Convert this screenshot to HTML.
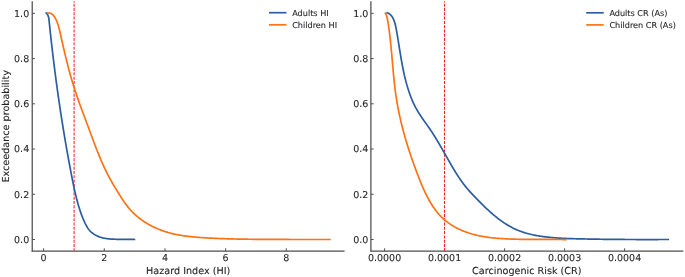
<!DOCTYPE html>
<html><head><meta charset="utf-8"><title>Exceedance probability</title>
<style>html,body{margin:0;padding:0;background:#fff;width:685px;height:277px;overflow:hidden}svg{display:block}text{stroke:#262626;stroke-width:0.1px}</style>
</head><body>
<svg width="685" height="277" viewBox="0 0 685 277" font-family='"DejaVu Sans", "Liberation Sans", sans-serif' font-size="9.5" fill="#262626" text-rendering="geometricPrecision">
<rect width="685" height="277" fill="#fff"/>
<line x1="32.2" y1="1.2" x2="32.2" y2="251.55" stroke="#363636" stroke-width="1.1"/>
<line x1="31.700000000000003" y1="251.05" x2="344.6" y2="251.05" stroke="#4c4c4c" stroke-width="1.15"/>
<line x1="32.2" y1="239.50" x2="35.00" y2="239.50" stroke="#444" stroke-width="0.9"/>
<text x="29.2" y="242.95" text-anchor="end">0.0</text>
<line x1="32.2" y1="194.27" x2="35.00" y2="194.27" stroke="#444" stroke-width="0.9"/>
<text x="29.2" y="197.72" text-anchor="end">0.2</text>
<line x1="32.2" y1="149.04" x2="35.00" y2="149.04" stroke="#444" stroke-width="0.9"/>
<text x="29.2" y="152.49" text-anchor="end">0.4</text>
<line x1="32.2" y1="103.81" x2="35.00" y2="103.81" stroke="#444" stroke-width="0.9"/>
<text x="29.2" y="107.26" text-anchor="end">0.6</text>
<line x1="32.2" y1="58.58" x2="35.00" y2="58.58" stroke="#444" stroke-width="0.9"/>
<text x="29.2" y="62.03" text-anchor="end">0.8</text>
<line x1="32.2" y1="13.35" x2="35.00" y2="13.35" stroke="#444" stroke-width="0.9"/>
<text x="29.2" y="16.80" text-anchor="end">1.0</text>
<line x1="43.60" y1="251.05" x2="43.60" y2="248.25" stroke="#444" stroke-width="0.9"/>
<text x="43.60" y="260.8" text-anchor="middle">0</text>
<line x1="104.28" y1="251.05" x2="104.28" y2="248.25" stroke="#444" stroke-width="0.9"/>
<text x="104.28" y="260.8" text-anchor="middle">2</text>
<line x1="164.96" y1="251.05" x2="164.96" y2="248.25" stroke="#444" stroke-width="0.9"/>
<text x="164.96" y="260.8" text-anchor="middle">4</text>
<line x1="225.64" y1="251.05" x2="225.64" y2="248.25" stroke="#444" stroke-width="0.9"/>
<text x="225.64" y="260.8" text-anchor="middle">6</text>
<line x1="286.32" y1="251.05" x2="286.32" y2="248.25" stroke="#444" stroke-width="0.9"/>
<text x="286.32" y="260.8" text-anchor="middle">8</text>
<line x1="370.9" y1="1.2" x2="370.9" y2="251.55" stroke="#363636" stroke-width="1.1"/>
<line x1="370.4" y1="251.05" x2="683.3" y2="251.05" stroke="#4c4c4c" stroke-width="1.15"/>
<line x1="370.9" y1="239.50" x2="373.70" y2="239.50" stroke="#444" stroke-width="0.9"/>
<text x="368.3" y="242.95" text-anchor="end">0.0</text>
<line x1="370.9" y1="194.27" x2="373.70" y2="194.27" stroke="#444" stroke-width="0.9"/>
<text x="368.3" y="197.72" text-anchor="end">0.2</text>
<line x1="370.9" y1="149.04" x2="373.70" y2="149.04" stroke="#444" stroke-width="0.9"/>
<text x="368.3" y="152.49" text-anchor="end">0.4</text>
<line x1="370.9" y1="103.81" x2="373.70" y2="103.81" stroke="#444" stroke-width="0.9"/>
<text x="368.3" y="107.26" text-anchor="end">0.6</text>
<line x1="370.9" y1="58.58" x2="373.70" y2="58.58" stroke="#444" stroke-width="0.9"/>
<text x="368.3" y="62.03" text-anchor="end">0.8</text>
<line x1="370.9" y1="13.35" x2="373.70" y2="13.35" stroke="#444" stroke-width="0.9"/>
<text x="368.3" y="16.80" text-anchor="end">1.0</text>
<line x1="384.60" y1="251.05" x2="384.60" y2="248.25" stroke="#444" stroke-width="0.9"/>
<text x="384.60" y="260.8" text-anchor="middle">0.0000</text>
<line x1="444.60" y1="251.05" x2="444.60" y2="248.25" stroke="#444" stroke-width="0.9"/>
<text x="444.60" y="260.8" text-anchor="middle">0.0001</text>
<line x1="504.60" y1="251.05" x2="504.60" y2="248.25" stroke="#444" stroke-width="0.9"/>
<text x="504.60" y="260.8" text-anchor="middle">0.0002</text>
<line x1="564.60" y1="251.05" x2="564.60" y2="248.25" stroke="#444" stroke-width="0.9"/>
<text x="564.60" y="260.8" text-anchor="middle">0.0003</text>
<line x1="624.60" y1="251.05" x2="624.60" y2="248.25" stroke="#444" stroke-width="0.9"/>
<text x="624.60" y="260.8" text-anchor="middle">0.0004</text>
<line x1="74.10" y1="250.8" x2="74.10" y2="1.2" stroke="#ff1f1f" stroke-width="1.05" stroke-dasharray="2.99 1.30" stroke-dashoffset="0.45"/>
<line x1="444.50" y1="250.8" x2="444.50" y2="1.2" stroke="#ff1f1f" stroke-width="1.05" stroke-dasharray="2.99 1.30" stroke-dashoffset="0.45"/>
<path d="M45.41,13.07 L46.10,13.10 L46.66,13.43 L47.13,13.94 L47.51,14.54 L47.84,15.15 L48.12,15.78 L48.34,16.42 L48.53,17.07 L48.68,17.73 L48.81,18.40 L48.91,19.07 L49.00,19.75 L49.07,20.43 L49.14,21.11 L49.21,21.79 L49.28,22.47 L49.35,23.15 L49.42,23.83 L49.49,24.51 L49.56,25.19 L49.63,25.86 L49.70,26.54 L49.77,27.22 L49.84,27.90 L49.91,28.58 L49.98,29.26 L50.06,29.94 L50.13,30.62 L50.20,31.29 L50.27,31.97 L50.35,32.65 L50.42,33.33 L50.49,34.01 L50.56,34.68 L50.64,35.36 L50.71,36.04 L50.79,36.72 L50.86,37.39 L50.94,38.07 L51.01,38.75 L51.09,39.43 L51.16,40.10 L51.24,40.78 L51.31,41.46 L51.39,42.13 L51.46,42.81 L51.54,43.49 L51.62,44.16 L51.69,44.84 L51.77,45.52 L51.85,46.19 L51.93,46.87 L52.00,47.55 L52.08,48.22 L52.16,48.90 L52.24,49.57 L52.32,50.25 L52.40,50.93 L52.48,51.60 L52.56,52.28 L52.64,52.95 L52.72,53.63 L52.80,54.30 L52.88,54.98 L52.96,55.66 L53.04,56.33 L53.12,57.01 L53.20,57.68 L53.28,58.36 L53.37,59.03 L53.45,59.71 L53.53,60.38 L53.61,61.06 L53.70,61.73 L53.78,62.41 L53.86,63.09 L53.95,63.76 L54.03,64.44 L54.12,65.11 L54.20,65.79 L54.29,66.46 L54.37,67.14 L54.46,67.81 L54.54,68.49 L54.63,69.16 L54.71,69.84 L54.80,70.51 L54.89,71.19 L54.97,71.86 L55.06,72.54 L55.15,73.21 L55.24,73.89 L55.32,74.56 L55.41,75.24 L55.50,75.91 L55.59,76.58 L55.68,77.26 L55.77,77.93 L55.86,78.61 L55.95,79.28 L56.04,79.96 L56.13,80.63 L56.22,81.31 L56.31,81.98 L56.40,82.66 L56.49,83.33 L56.58,84.01 L56.67,84.68 L56.77,85.36 L56.86,86.03 L56.95,86.71 L57.04,87.38 L57.14,88.06 L57.23,88.73 L57.32,89.41 L57.42,90.08 L57.51,90.76 L57.61,91.43 L57.70,92.11 L57.80,92.78 L57.89,93.46 L57.99,94.13 L58.08,94.81 L58.18,95.48 L58.27,96.16 L58.37,96.83 L58.47,97.51 L58.57,98.18 L58.66,98.86 L58.76,99.53 L58.86,100.21 L58.96,100.88 L59.05,101.55 L59.15,102.23 L59.25,102.90 L59.35,103.58 L59.45,104.25 L59.55,104.93 L59.65,105.60 L59.75,106.28 L59.85,106.95 L59.95,107.63 L60.05,108.30 L60.16,108.97 L60.26,109.65 L60.36,110.32 L60.46,111.00 L60.56,111.67 L60.67,112.34 L60.77,113.02 L60.87,113.69 L60.98,114.37 L61.08,115.04 L61.18,115.72 L61.29,116.39 L61.39,117.06 L61.50,117.74 L61.60,118.41 L61.71,119.08 L61.82,119.76 L61.92,120.43 L62.03,121.11 L62.13,121.78 L62.24,122.45 L62.35,123.13 L62.46,123.80 L62.56,124.47 L62.67,125.15 L62.78,125.82 L62.89,126.49 L63.00,127.17 L63.11,127.84 L63.22,128.51 L63.33,129.19 L63.44,129.86 L63.55,130.53 L63.66,131.21 L63.77,131.88 L63.88,132.55 L63.99,133.22 L64.10,133.90 L64.21,134.57 L64.33,135.24 L64.44,135.91 L64.55,136.59 L64.66,137.26 L64.78,137.93 L64.89,138.60 L65.00,139.28 L65.12,139.95 L65.23,140.62 L65.35,141.29 L65.46,141.96 L65.58,142.64 L65.69,143.31 L65.81,143.98 L65.93,144.65 L66.04,145.32 L66.16,145.99 L66.28,146.67 L66.39,147.34 L66.51,148.01 L66.63,148.68 L66.75,149.35 L66.86,150.02 L66.98,150.69 L67.10,151.36 L67.22,152.04 L67.34,152.71 L67.46,153.38 L67.58,154.05 L67.70,154.72 L67.82,155.39 L67.94,156.06 L68.06,156.73 L68.19,157.40 L68.31,158.07 L68.43,158.74 L68.55,159.41 L68.67,160.08 L68.80,160.75 L68.92,161.42 L69.04,162.09 L69.17,162.76 L69.29,163.43 L69.42,164.10 L69.54,164.77 L69.67,165.44 L69.79,166.11 L69.92,166.77 L70.04,167.44 L70.17,168.11 L70.30,168.78 L70.42,169.45 L70.55,170.12 L70.68,170.79 L70.80,171.46 L70.93,172.12 L71.06,172.79 L71.19,173.46 L71.32,174.13 L71.45,174.80 L71.58,175.46 L71.71,176.13 L71.84,176.80 L71.97,177.47 L72.10,178.13 L72.23,178.80 L72.36,179.47 L72.49,180.13 L72.62,180.80 L72.76,181.47 L72.89,182.13 L73.03,182.80 L73.16,183.47 L73.30,184.13 L73.44,184.80 L73.57,185.47 L73.71,186.13 L73.85,186.80 L74.00,187.46 L74.14,188.13 L74.28,188.79 L74.43,189.46 L74.57,190.12 L74.72,190.78 L74.87,191.45 L75.02,192.11 L75.17,192.77 L75.33,193.44 L75.48,194.10 L75.64,194.76 L75.80,195.43 L75.96,196.09 L76.12,196.75 L76.28,197.41 L76.45,198.07 L76.62,198.73 L76.79,199.39 L76.96,200.05 L77.14,200.71 L77.31,201.37 L77.49,202.03 L77.67,202.69 L77.86,203.35 L78.04,204.01 L78.23,204.67 L78.42,205.33 L78.62,205.98 L78.81,206.64 L79.01,207.30 L79.21,207.95 L79.42,208.60 L79.63,209.26 L79.84,209.91 L80.05,210.56 L80.27,211.21 L80.49,211.86 L80.71,212.51 L80.94,213.15 L81.17,213.80 L81.40,214.44 L81.64,215.08 L81.88,215.72 L82.13,216.35 L82.38,216.99 L82.63,217.62 L82.89,218.25 L83.15,218.87 L83.42,219.50 L83.69,220.12 L83.96,220.74 L84.24,221.35 L84.53,221.96 L84.81,222.57 L85.11,223.18 L85.40,223.78 L85.71,224.38 L86.01,224.97 L86.33,225.56 L86.65,226.15 L86.98,226.73 L87.32,227.30 L87.67,227.87 L88.04,228.43 L88.43,228.98 L88.84,229.52 L89.27,230.04 L89.72,230.56 L90.20,231.07 L90.70,231.56 L91.22,232.04 L91.76,232.50 L92.31,232.95 L92.87,233.37 L93.43,233.78 L94.01,234.17 L94.59,234.54 L95.18,234.89 L95.77,235.22 L96.38,235.53 L96.98,235.83 L97.60,236.11 L98.22,236.38 L98.84,236.63 L99.47,236.87 L100.10,237.09 L100.74,237.29 L101.39,237.49 L102.03,237.67 L102.69,237.83 L103.34,237.99 L104.00,238.13 L104.66,238.26 L105.33,238.39 L106.00,238.50 L106.67,238.60 L107.34,238.69 L108.02,238.78 L108.70,238.85 L109.38,238.92 L110.06,238.98 L110.74,239.04 L111.43,239.09 L112.11,239.13 L112.80,239.16 L113.48,239.20 L114.17,239.22 L114.85,239.25 L115.54,239.27 L116.22,239.29 L116.91,239.30 L117.59,239.32 L118.28,239.33 L118.96,239.34 L119.64,239.34 L120.32,239.35 L121.00,239.36 L121.68,239.36 L122.36,239.36 L123.04,239.37 L123.72,239.37 L124.40,239.37 L125.08,239.37 L125.76,239.37 L126.44,239.38 L127.12,239.38 L127.80,239.38 L128.48,239.39 L129.16,239.39 L129.84,239.40 L130.52,239.41 L131.20,239.42 L131.89,239.43 L132.57,239.44 L133.25,239.46 L133.93,239.47 L134.62,239.50 L135.30,239.52" fill="none" stroke="#2b5d9f" stroke-width="1.7" stroke-linejoin="round" stroke-linecap="butt"/>
<path d="M47.01,13.03 L48.23,12.91 L49.35,12.98 L50.36,13.23 L51.27,13.63 L52.10,14.17 L52.85,14.82 L53.53,15.56 L54.16,16.38 L54.73,17.25 L55.26,18.15 L55.75,19.08 L56.21,20.02 L56.64,20.98 L57.05,21.95 L57.42,22.94 L57.77,23.94 L58.10,24.95 L58.42,25.97 L58.71,27.00 L58.99,28.04 L59.25,29.08 L59.51,30.13 L59.76,31.18 L60.00,32.24 L60.24,33.29 L60.47,34.35 L60.71,35.40 L60.95,36.46 L61.18,37.51 L61.42,38.56 L61.66,39.61 L61.89,40.66 L62.13,41.71 L62.37,42.76 L62.61,43.81 L62.85,44.85 L63.09,45.90 L63.33,46.94 L63.57,47.99 L63.81,49.03 L64.06,50.07 L64.30,51.11 L64.55,52.15 L64.79,53.19 L65.04,54.23 L65.29,55.27 L65.54,56.31 L65.79,57.34 L66.04,58.38 L66.30,59.41 L66.55,60.45 L66.81,61.48 L67.07,62.51 L67.33,63.54 L67.59,64.57 L67.85,65.60 L68.12,66.63 L68.39,67.66 L68.66,68.69 L68.93,69.71 L69.21,70.74 L69.48,71.76 L69.76,72.79 L70.04,73.81 L70.33,74.83 L70.61,75.85 L70.90,76.87 L71.19,77.89 L71.49,78.91 L71.79,79.93 L72.09,80.95 L72.39,81.96 L72.69,82.98 L73.00,84.00 L73.31,85.01 L73.63,86.03 L73.95,87.04 L74.27,88.05 L74.59,89.06 L74.92,90.07 L75.25,91.08 L75.59,92.09 L75.92,93.10 L76.26,94.11 L76.61,95.12 L76.95,96.13 L77.30,97.14 L77.65,98.14 L78.00,99.15 L78.36,100.15 L78.71,101.16 L79.07,102.16 L79.43,103.17 L79.80,104.17 L80.16,105.18 L80.52,106.18 L80.89,107.18 L81.26,108.19 L81.63,109.19 L82.00,110.19 L82.37,111.19 L82.74,112.20 L83.11,113.20 L83.49,114.20 L83.86,115.20 L84.24,116.20 L84.61,117.20 L84.98,118.21 L85.36,119.21 L85.73,120.21 L86.11,121.21 L86.48,122.21 L86.86,123.22 L87.23,124.22 L87.60,125.22 L87.98,126.22 L88.35,127.22 L88.72,128.23 L89.09,129.23 L89.46,130.23 L89.83,131.24 L90.20,132.24 L90.57,133.24 L90.94,134.25 L91.30,135.25 L91.67,136.25 L92.04,137.25 L92.41,138.25 L92.79,139.25 L93.16,140.26 L93.53,141.26 L93.91,142.25 L94.28,143.25 L94.66,144.25 L95.04,145.25 L95.42,146.25 L95.80,147.24 L96.18,148.24 L96.57,149.23 L96.96,150.22 L97.35,151.21 L97.74,152.20 L98.14,153.19 L98.53,154.18 L98.93,155.17 L99.34,156.15 L99.75,157.14 L100.16,158.12 L100.57,159.10 L100.99,160.08 L101.41,161.06 L101.83,162.03 L102.26,163.01 L102.69,163.98 L103.13,164.95 L103.57,165.92 L104.01,166.88 L104.46,167.85 L104.92,168.81 L105.38,169.77 L105.84,170.73 L106.31,171.68 L106.79,172.64 L107.26,173.59 L107.75,174.54 L108.24,175.48 L108.74,176.43 L109.24,177.37 L109.75,178.31 L110.26,179.24 L110.78,180.18 L111.30,181.11 L111.83,182.04 L112.36,182.96 L112.90,183.89 L113.44,184.81 L113.99,185.73 L114.53,186.65 L115.09,187.57 L115.64,188.49 L116.20,189.40 L116.76,190.32 L117.32,191.23 L117.88,192.14 L118.45,193.05 L119.01,193.96 L119.58,194.87 L120.15,195.77 L120.73,196.68 L121.30,197.58 L121.88,198.48 L122.47,199.37 L123.06,200.26 L123.66,201.14 L124.26,202.02 L124.87,202.89 L125.49,203.76 L126.12,204.61 L126.76,205.46 L127.41,206.30 L128.07,207.13 L128.74,207.95 L129.42,208.76 L130.12,209.56 L130.82,210.35 L131.55,211.12 L132.28,211.89 L133.03,212.64 L133.79,213.38 L134.56,214.11 L135.34,214.82 L136.14,215.53 L136.94,216.22 L137.76,216.90 L138.58,217.57 L139.42,218.23 L140.27,218.88 L141.12,219.51 L141.99,220.14 L142.87,220.75 L143.75,221.35 L144.64,221.93 L145.55,222.51 L146.46,223.07 L147.37,223.63 L148.30,224.17 L149.23,224.69 L150.17,225.21 L151.12,225.72 L152.07,226.21 L153.03,226.69 L154.00,227.16 L154.97,227.62 L155.95,228.06 L156.93,228.49 L157.92,228.92 L158.91,229.32 L159.91,229.72 L160.91,230.11 L161.91,230.48 L162.92,230.84 L163.93,231.19 L164.95,231.53 L165.97,231.86 L166.99,232.17 L168.01,232.47 L169.04,232.76 L170.06,233.04 L171.09,233.31 L172.13,233.56 L173.16,233.81 L174.20,234.05 L175.24,234.27 L176.28,234.49 L177.32,234.70 L178.36,234.90 L179.41,235.09 L180.46,235.27 L181.51,235.44 L182.56,235.61 L183.61,235.77 L184.66,235.92 L185.72,236.06 L186.77,236.20 L187.83,236.33 L188.89,236.46 L189.95,236.57 L191.01,236.69 L192.07,236.80 L193.13,236.90 L194.19,237.00 L195.25,237.10 L196.32,237.19 L197.38,237.27 L198.44,237.36 L199.51,237.44 L200.57,237.52 L201.64,237.59 L202.70,237.66 L203.77,237.73 L204.83,237.80 L205.90,237.87 L206.96,237.93 L208.03,237.99 L209.10,238.05 L210.16,238.11 L211.23,238.17 L212.29,238.22 L213.36,238.27 L214.43,238.32 L215.49,238.37 L216.56,238.42 L217.62,238.46 L218.69,238.51 L219.76,238.55 L220.82,238.59 L221.89,238.63 L222.96,238.66 L224.02,238.70 L225.09,238.73 L226.16,238.77 L227.22,238.80 L228.29,238.83 L229.36,238.86 L230.42,238.89 L231.49,238.91 L232.56,238.94 L233.63,238.96 L234.69,238.99 L235.76,239.01 L236.83,239.03 L237.89,239.06 L238.96,239.08 L240.03,239.10 L241.09,239.12 L242.16,239.13 L243.23,239.15 L244.29,239.17 L245.36,239.19 L246.43,239.20 L247.49,239.22 L248.56,239.23 L249.63,239.25 L250.70,239.26 L251.76,239.27 L252.83,239.29 L253.90,239.30 L254.96,239.31 L256.03,239.32 L257.10,239.33 L258.16,239.34 L259.23,239.35 L260.30,239.36 L261.36,239.37 L262.43,239.38 L263.50,239.39 L264.56,239.39 L265.63,239.40 L266.70,239.41 L267.76,239.41 L268.83,239.42 L269.90,239.43 L270.96,239.43 L272.03,239.44 L273.09,239.44 L274.16,239.44 L275.23,239.45 L276.29,239.45 L277.36,239.45 L278.43,239.46 L279.49,239.46 L280.56,239.46 L281.63,239.47 L282.69,239.47 L283.76,239.47 L284.83,239.47 L285.89,239.47 L286.96,239.47 L288.03,239.47 L289.09,239.47 L290.16,239.48 L291.23,239.48 L292.29,239.48 L293.36,239.48 L294.43,239.48 L295.49,239.48 L296.56,239.48 L297.63,239.48 L298.69,239.48 L299.76,239.48 L300.83,239.48 L301.89,239.48 L302.96,239.48 L304.03,239.48 L305.09,239.48 L306.16,239.48 L307.23,239.48 L308.29,239.48 L309.36,239.48 L310.43,239.48 L311.49,239.48 L312.56,239.48 L313.63,239.48 L314.69,239.48 L315.76,239.48 L316.83,239.48 L317.90,239.48 L318.96,239.48 L320.03,239.48 L321.10,239.48 L322.16,239.48 L323.23,239.49 L324.30,239.49 L325.36,239.49 L326.43,239.49 L327.50,239.50 L328.57,239.50 L329.63,239.50 L330.70,239.51" fill="none" stroke="#ff7215" stroke-width="1.7" stroke-linejoin="round" stroke-linecap="butt"/>
<path d="M386.41,12.61 L387.47,12.86 L388.42,13.24 L389.28,13.74 L390.06,14.34 L390.76,15.02 L391.40,15.77 L391.98,16.56 L392.51,17.40 L393.00,18.26 L393.44,19.16 L393.84,20.08 L394.21,21.03 L394.55,22.00 L394.85,22.99 L395.13,24.00 L395.38,25.02 L395.62,26.06 L395.84,27.10 L396.05,28.15 L396.25,29.20 L396.44,30.25 L396.63,31.31 L396.82,32.36 L397.00,33.41 L397.18,34.46 L397.36,35.51 L397.54,36.56 L397.71,37.60 L397.88,38.65 L398.06,39.69 L398.23,40.73 L398.39,41.78 L398.56,42.82 L398.73,43.86 L398.90,44.90 L399.06,45.93 L399.23,46.97 L399.39,48.00 L399.56,49.04 L399.72,50.07 L399.89,51.10 L400.06,52.14 L400.23,53.17 L400.39,54.20 L400.56,55.22 L400.73,56.25 L400.91,57.28 L401.08,58.30 L401.26,59.33 L401.43,60.35 L401.61,61.37 L401.80,62.39 L401.98,63.41 L402.17,64.43 L402.36,65.45 L402.55,66.47 L402.75,67.48 L402.95,68.50 L403.16,69.51 L403.36,70.53 L403.57,71.54 L403.79,72.55 L404.01,73.56 L404.24,74.57 L404.47,75.58 L404.70,76.59 L404.94,77.59 L405.18,78.60 L405.43,79.60 L405.69,80.61 L405.95,81.61 L406.22,82.61 L406.49,83.62 L406.77,84.62 L407.06,85.62 L407.35,86.62 L407.65,87.61 L407.96,88.61 L408.27,89.61 L408.59,90.60 L408.92,91.59 L409.26,92.59 L409.60,93.57 L409.96,94.56 L410.32,95.54 L410.69,96.52 L411.07,97.50 L411.45,98.47 L411.85,99.44 L412.26,100.41 L412.67,101.37 L413.10,102.32 L413.54,103.28 L413.98,104.22 L414.44,105.16 L414.91,106.10 L415.39,107.02 L415.87,107.95 L416.38,108.86 L416.89,109.77 L417.41,110.67 L417.94,111.57 L418.49,112.46 L419.04,113.34 L419.60,114.22 L420.17,115.09 L420.74,115.96 L421.33,116.83 L421.91,117.69 L422.50,118.55 L423.10,119.41 L423.70,120.26 L424.30,121.12 L424.90,121.97 L425.51,122.82 L426.11,123.68 L426.72,124.53 L427.32,125.38 L427.92,126.23 L428.52,127.09 L429.12,127.95 L429.71,128.81 L430.29,129.67 L430.88,130.53 L431.45,131.40 L432.03,132.27 L432.59,133.15 L433.16,134.02 L433.72,134.90 L434.27,135.78 L434.83,136.66 L435.37,137.55 L435.92,138.44 L436.46,139.33 L437.00,140.22 L437.54,141.11 L438.07,142.01 L438.60,142.90 L439.13,143.80 L439.66,144.70 L440.18,145.60 L440.70,146.50 L441.22,147.41 L441.74,148.31 L442.26,149.22 L442.78,150.12 L443.29,151.03 L443.81,151.94 L444.32,152.84 L444.84,153.75 L445.35,154.66 L445.87,155.57 L446.38,156.48 L446.90,157.39 L447.41,158.30 L447.93,159.21 L448.44,160.11 L448.96,161.02 L449.48,161.93 L450.00,162.84 L450.52,163.74 L451.04,164.65 L451.57,165.55 L452.10,166.46 L452.63,167.36 L453.16,168.26 L453.69,169.16 L454.23,170.05 L454.77,170.95 L455.32,171.84 L455.87,172.73 L456.42,173.61 L456.98,174.49 L457.55,175.37 L458.11,176.24 L458.69,177.11 L459.27,177.98 L459.85,178.84 L460.44,179.70 L461.04,180.55 L461.64,181.39 L462.25,182.23 L462.86,183.07 L463.49,183.90 L464.12,184.72 L464.75,185.54 L465.40,186.35 L466.05,187.16 L466.71,187.95 L467.38,188.75 L468.05,189.54 L468.73,190.32 L469.41,191.10 L470.10,191.88 L470.80,192.65 L471.50,193.41 L472.20,194.18 L472.91,194.94 L473.63,195.70 L474.35,196.45 L475.07,197.20 L475.80,197.95 L476.52,198.70 L477.26,199.45 L477.99,200.19 L478.73,200.94 L479.47,201.68 L480.21,202.42 L480.96,203.16 L481.71,203.90 L482.46,204.64 L483.21,205.37 L483.96,206.11 L484.72,206.84 L485.48,207.57 L486.25,208.29 L487.01,209.01 L487.78,209.73 L488.56,210.44 L489.34,211.15 L490.12,211.86 L490.90,212.56 L491.69,213.25 L492.48,213.94 L493.28,214.62 L494.08,215.30 L494.88,215.97 L495.69,216.64 L496.51,217.29 L497.32,217.94 L498.15,218.58 L498.97,219.22 L499.81,219.84 L500.64,220.46 L501.49,221.07 L502.33,221.67 L503.19,222.26 L504.04,222.84 L504.91,223.41 L505.78,223.97 L506.65,224.52 L507.53,225.06 L508.42,225.59 L509.31,226.10 L510.21,226.61 L511.11,227.10 L512.03,227.58 L512.94,228.05 L513.87,228.50 L514.80,228.94 L515.74,229.37 L516.68,229.79 L517.63,230.19 L518.59,230.58 L519.55,230.95 L520.52,231.31 L521.50,231.66 L522.48,232.00 L523.47,232.32 L524.46,232.64 L525.46,232.94 L526.46,233.23 L527.46,233.51 L528.47,233.78 L529.49,234.04 L530.50,234.29 L531.52,234.52 L532.55,234.75 L533.58,234.97 L534.61,235.18 L535.64,235.38 L536.67,235.58 L537.71,235.76 L538.75,235.94 L539.79,236.11 L540.84,236.27 L541.88,236.42 L542.93,236.57 L543.97,236.70 L545.02,236.84 L546.07,236.96 L547.12,237.08 L548.17,237.20 L549.21,237.31 L550.26,237.41 L551.31,237.51 L552.35,237.60 L553.40,237.69 L554.44,237.77 L555.49,237.85 L556.53,237.93 L557.57,238.00 L558.61,238.07 L559.65,238.13 L560.69,238.19 L561.73,238.25 L562.77,238.30 L563.81,238.36 L564.85,238.40 L565.89,238.45 L566.93,238.49 L567.96,238.53 L569.00,238.57 L570.04,238.61 L571.07,238.64 L572.11,238.67 L573.15,238.70 L574.19,238.73 L575.22,238.76 L576.26,238.79 L577.30,238.81 L578.33,238.84 L579.37,238.86 L580.41,238.88 L581.45,238.90 L582.49,238.93 L583.53,238.95 L584.57,238.97 L585.61,238.99 L586.65,239.01 L587.69,239.03 L588.73,239.05 L589.77,239.07 L590.81,239.09 L591.85,239.11 L592.90,239.12 L593.94,239.14 L594.98,239.16 L596.02,239.18 L597.07,239.19 L598.11,239.21 L599.15,239.22 L600.20,239.24 L601.24,239.25 L602.28,239.27 L603.33,239.28 L604.37,239.29 L605.42,239.31 L606.46,239.32 L607.51,239.33 L608.55,239.34 L609.60,239.35 L610.64,239.36 L611.69,239.37 L612.73,239.39 L613.78,239.39 L614.82,239.40 L615.87,239.41 L616.92,239.42 L617.96,239.43 L619.01,239.44 L620.05,239.45 L621.10,239.45 L622.15,239.46 L623.19,239.47 L624.24,239.47 L625.28,239.48 L626.33,239.49 L627.38,239.49 L628.42,239.50 L629.47,239.50 L630.51,239.51 L631.56,239.51 L632.60,239.51 L633.65,239.52 L634.70,239.52 L635.74,239.52 L636.79,239.53 L637.83,239.53 L638.88,239.53 L639.92,239.53 L640.97,239.53 L642.01,239.54 L643.05,239.54 L644.10,239.54 L645.14,239.54 L646.19,239.54 L647.23,239.54 L648.27,239.54 L649.32,239.54 L650.36,239.54 L651.40,239.54 L652.45,239.54 L653.49,239.53 L654.53,239.53 L655.57,239.53 L656.61,239.53 L657.65,239.53 L658.69,239.52 L659.74,239.52 L660.78,239.52 L661.82,239.51 L662.86,239.51 L663.89,239.51 L664.93,239.50 L665.97,239.50 L667.01,239.50 L668.05,239.49 L669.09,239.49" fill="none" stroke="#2b5d9f" stroke-width="1.7" stroke-linejoin="round" stroke-linecap="butt"/>
<path d="M384.85,12.59 L385.35,13.23 L385.79,13.92 L386.16,14.64 L386.47,15.39 L386.74,16.18 L386.97,16.98 L387.16,17.81 L387.34,18.65 L387.49,19.49 L387.64,20.34 L387.78,21.19 L387.93,22.05 L388.06,22.90 L388.20,23.75 L388.33,24.61 L388.46,25.46 L388.59,26.31 L388.72,27.17 L388.84,28.03 L388.96,28.88 L389.08,29.74 L389.19,30.60 L389.31,31.45 L389.42,32.31 L389.53,33.17 L389.63,34.03 L389.74,34.89 L389.84,35.75 L389.94,36.61 L390.04,37.47 L390.14,38.33 L390.24,39.19 L390.33,40.05 L390.42,40.91 L390.52,41.78 L390.61,42.64 L390.69,43.50 L390.78,44.37 L390.87,45.23 L390.95,46.09 L391.04,46.96 L391.12,47.82 L391.20,48.68 L391.28,49.55 L391.36,50.41 L391.44,51.28 L391.52,52.14 L391.60,53.01 L391.68,53.88 L391.75,54.74 L391.83,55.61 L391.91,56.47 L391.98,57.34 L392.06,58.21 L392.13,59.07 L392.21,59.94 L392.28,60.80 L392.36,61.67 L392.43,62.54 L392.51,63.40 L392.58,64.27 L392.66,65.14 L392.73,66.00 L392.81,66.87 L392.89,67.74 L392.96,68.60 L393.04,69.47 L393.12,70.33 L393.20,71.20 L393.28,72.07 L393.36,72.93 L393.44,73.80 L393.52,74.66 L393.60,75.53 L393.69,76.39 L393.77,77.26 L393.86,78.12 L393.94,78.99 L394.03,79.85 L394.12,80.72 L394.22,81.58 L394.31,82.45 L394.40,83.31 L394.50,84.17 L394.60,85.04 L394.70,85.90 L394.80,86.76 L394.90,87.62 L395.01,88.49 L395.11,89.35 L395.22,90.21 L395.33,91.07 L395.45,91.93 L395.56,92.79 L395.68,93.65 L395.80,94.51 L395.92,95.37 L396.05,96.23 L396.18,97.08 L396.31,97.94 L396.44,98.80 L396.57,99.65 L396.71,100.51 L396.85,101.37 L397.00,102.22 L397.14,103.08 L397.29,103.93 L397.44,104.78 L397.60,105.64 L397.75,106.49 L397.91,107.34 L398.07,108.19 L398.24,109.04 L398.40,109.90 L398.57,110.75 L398.74,111.60 L398.92,112.44 L399.09,113.29 L399.27,114.14 L399.45,114.99 L399.64,115.84 L399.82,116.68 L400.01,117.53 L400.20,118.38 L400.39,119.22 L400.59,120.07 L400.78,120.91 L400.98,121.75 L401.18,122.60 L401.39,123.44 L401.59,124.28 L401.80,125.12 L402.01,125.97 L402.22,126.81 L402.44,127.65 L402.66,128.49 L402.87,129.32 L403.10,130.16 L403.32,131.00 L403.54,131.84 L403.77,132.68 L404.00,133.51 L404.23,134.35 L404.46,135.19 L404.70,136.02 L404.94,136.85 L405.17,137.69 L405.42,138.52 L405.66,139.36 L405.90,140.19 L406.15,141.02 L406.40,141.85 L406.65,142.68 L406.90,143.51 L407.15,144.34 L407.41,145.17 L407.67,146.00 L407.93,146.83 L408.19,147.66 L408.45,148.48 L408.71,149.31 L408.98,150.14 L409.25,150.96 L409.52,151.79 L409.79,152.61 L410.06,153.43 L410.34,154.26 L410.61,155.08 L410.89,155.90 L411.17,156.73 L411.45,157.55 L411.73,158.37 L412.02,159.19 L412.30,160.01 L412.59,160.83 L412.88,161.64 L413.17,162.46 L413.46,163.28 L413.75,164.10 L414.04,164.91 L414.34,165.73 L414.64,166.54 L414.94,167.36 L415.23,168.17 L415.54,168.98 L415.84,169.80 L416.14,170.61 L416.45,171.42 L416.75,172.23 L417.06,173.04 L417.37,173.85 L417.68,174.66 L417.99,175.47 L418.30,176.28 L418.62,177.09 L418.93,177.89 L419.25,178.70 L419.57,179.50 L419.89,180.31 L420.21,181.11 L420.53,181.92 L420.86,182.72 L421.19,183.52 L421.52,184.32 L421.86,185.12 L422.19,185.92 L422.54,186.71 L422.88,187.51 L423.23,188.30 L423.58,189.09 L423.94,189.88 L424.30,190.67 L424.66,191.46 L425.03,192.25 L425.41,193.03 L425.78,193.81 L426.17,194.59 L426.56,195.37 L426.95,196.15 L427.35,196.92 L427.75,197.69 L428.16,198.46 L428.58,199.23 L429.00,199.99 L429.43,200.75 L429.86,201.51 L430.30,202.26 L430.75,203.01 L431.20,203.76 L431.66,204.50 L432.13,205.23 L432.60,205.96 L433.08,206.68 L433.57,207.40 L434.06,208.12 L434.57,208.82 L435.08,209.53 L435.59,210.22 L436.12,210.91 L436.65,211.59 L437.19,212.26 L437.74,212.93 L438.30,213.59 L438.86,214.24 L439.43,214.88 L440.02,215.52 L440.61,216.14 L441.21,216.76 L441.81,217.37 L442.43,217.97 L443.06,218.56 L443.69,219.14 L444.34,219.71 L444.99,220.27 L445.66,220.82 L446.33,221.36 L447.01,221.89 L447.70,222.41 L448.40,222.92 L449.11,223.43 L449.82,223.92 L450.54,224.40 L451.27,224.87 L452.00,225.34 L452.75,225.79 L453.50,226.23 L454.25,226.67 L455.01,227.09 L455.78,227.51 L456.55,227.92 L457.33,228.32 L458.11,228.71 L458.90,229.09 L459.69,229.46 L460.49,229.82 L461.29,230.17 L462.09,230.52 L462.90,230.85 L463.71,231.18 L464.53,231.50 L465.35,231.81 L466.17,232.11 L466.99,232.40 L467.82,232.69 L468.65,232.96 L469.48,233.23 L470.31,233.49 L471.14,233.74 L471.97,233.99 L472.81,234.22 L473.65,234.45 L474.48,234.67 L475.32,234.88 L476.16,235.09 L477.01,235.29 L477.85,235.48 L478.69,235.67 L479.54,235.84 L480.39,236.02 L481.23,236.18 L482.08,236.34 L482.93,236.49 L483.78,236.64 L484.64,236.78 L485.49,236.92 L486.34,237.05 L487.20,237.17 L488.05,237.29 L488.91,237.41 L489.77,237.52 L490.63,237.62 L491.49,237.72 L492.34,237.82 L493.20,237.91 L494.07,238.00 L494.93,238.08 L495.79,238.16 L496.65,238.23 L497.51,238.30 L498.38,238.37 L499.24,238.44 L500.11,238.50 L500.97,238.56 L501.84,238.61 L502.70,238.67 L503.57,238.72 L504.43,238.76 L505.30,238.81 L506.17,238.85 L507.03,238.89 L507.90,238.93 L508.77,238.97 L509.63,239.01 L510.50,239.04 L511.37,239.07 L512.23,239.10 L513.10,239.13 L513.97,239.16 L514.84,239.18 L515.70,239.20 L516.57,239.23 L517.44,239.25 L518.31,239.27 L519.18,239.29 L520.04,239.30 L520.91,239.32 L521.78,239.33 L522.65,239.35 L523.52,239.36 L524.39,239.37 L525.25,239.38 L526.12,239.39 L526.99,239.40 L527.86,239.40 L528.73,239.41 L529.60,239.42 L530.47,239.42 L531.33,239.42 L532.20,239.43 L533.07,239.43 L533.94,239.43 L534.81,239.44 L535.68,239.44 L536.55,239.44 L537.41,239.44 L538.28,239.44 L539.15,239.44 L540.02,239.44 L540.89,239.44 L541.76,239.44 L542.63,239.44 L543.49,239.44 L544.36,239.44 L545.23,239.44 L546.10,239.44 L546.97,239.44 L547.83,239.44 L548.70,239.44 L549.57,239.44 L550.44,239.45 L551.30,239.45 L552.17,239.45 L553.04,239.45 L553.91,239.46 L554.77,239.46 L555.64,239.47 L556.51,239.47 L557.37,239.48 L558.24,239.49 L559.11,239.49 L559.97,239.50 L560.84,239.51 L561.71,239.52 L562.57,239.54 L563.44,239.55 L564.30,239.56 L565.17,239.58 L566.03,239.59 L566.90,239.61" fill="none" stroke="#ff7215" stroke-width="1.7" stroke-linejoin="round" stroke-linecap="butt"/>
<line x1="269.0" y1="12.70" x2="286.50" y2="12.70" stroke="#2b5d9f" stroke-width="1.7"/>
<text x="292.20" y="15.60" font-size="8.15">Adults HI</text>
<line x1="269.0" y1="24.80" x2="286.50" y2="24.80" stroke="#ff7215" stroke-width="1.7"/>
<text x="292.20" y="27.70" font-size="8.15">Children HI</text>
<line x1="586.2" y1="12.80" x2="603.70" y2="12.80" stroke="#2b5d9f" stroke-width="1.7"/>
<text x="609.40" y="15.70" font-size="8.15">Adults CR (As)</text>
<line x1="586.2" y1="24.90" x2="603.70" y2="24.90" stroke="#ff7215" stroke-width="1.7"/>
<text x="609.40" y="27.80" font-size="8.15">Children CR (As)</text>
<text x="188.2" y="273.8" text-anchor="middle" font-size="9.65">Hazard Index (HI)</text>
<text x="526.8" y="273.8" text-anchor="middle" font-size="9.65">Carcinogenic Risk (CR)</text>
<text transform="translate(8.7,126.3) rotate(-90)" text-anchor="middle" font-size="9.65">Exceedance probability</text>
</svg>
</body></html>
